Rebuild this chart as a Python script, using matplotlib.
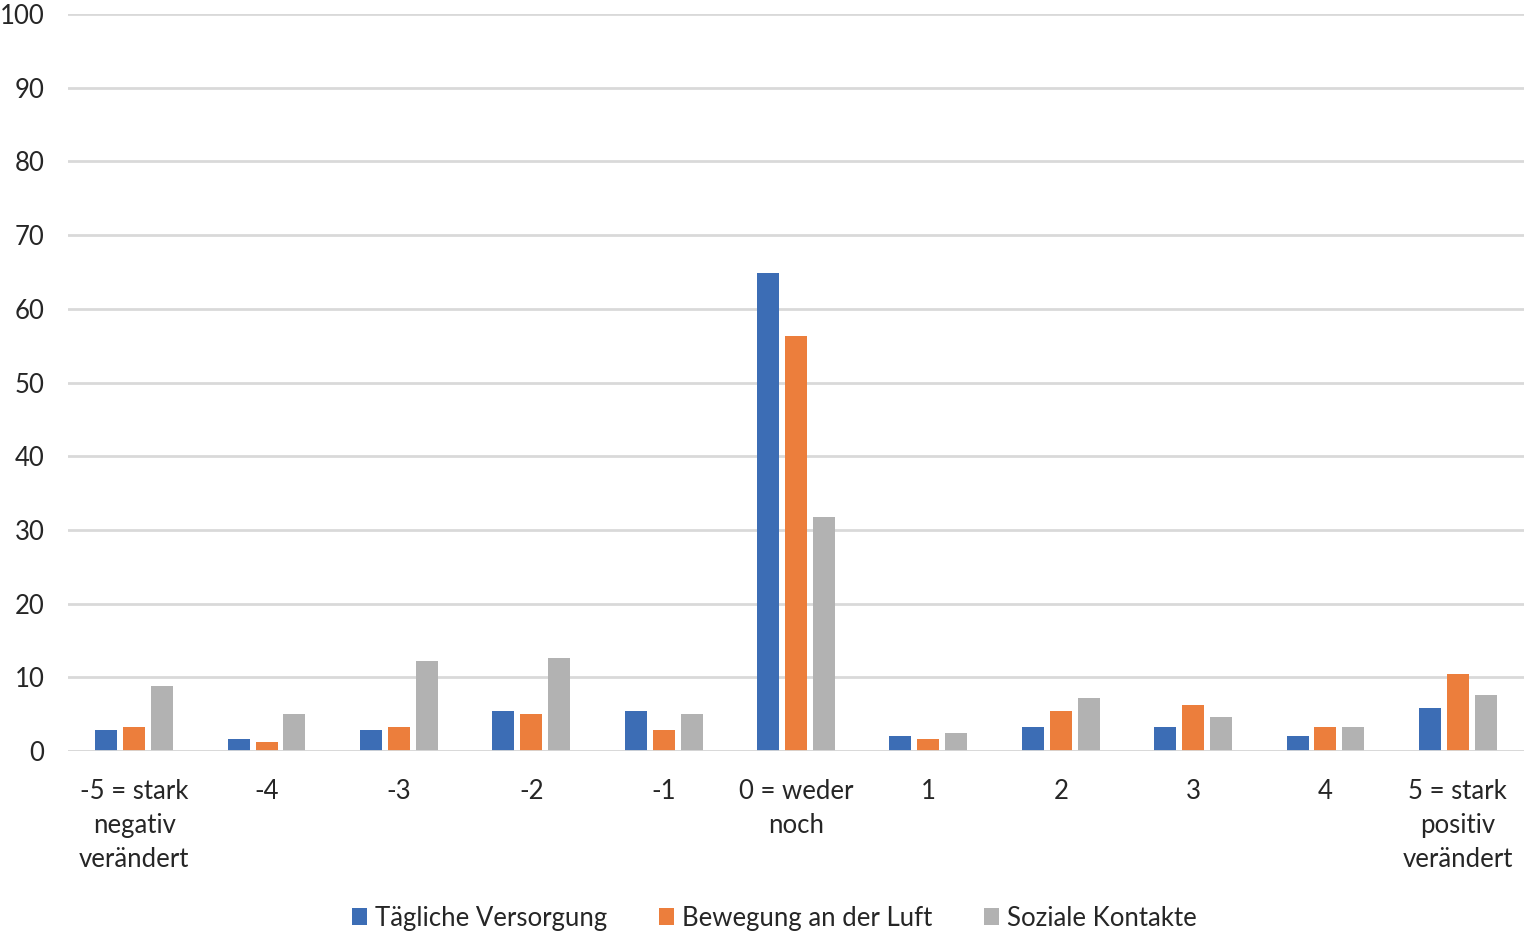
import matplotlib
matplotlib.use("Agg")
import matplotlib.pyplot as plt
import numpy as np

plt.rcParams['font.family'] = ['Lato', 'DejaVu Sans']

categories = ["-5 = stark\nnegativ\nverändert", "-4", "-3", "-2", "-1", "0 = weder\nnoch",
              "1", "2", "3", "4", "5 = stark\npositiv\nverändert"]
series_names = ["Tägliche Versorgung", "Bewegung an der Luft", "Soziale Kontakte"]
versorgung = [2.8, 1.6, 2.8, 5.4, 5.4, 64.9, 2.0, 3.3, 3.3, 2.0, 5.8]
bewegung = [3.3, 1.2, 3.3, 5.0, 2.8, 56.3, 1.6, 5.4, 6.2, 3.3, 10.4]
soziale = [8.8, 5.0, 12.2, 12.6, 5.0, 31.8, 2.4, 7.2, 4.6, 3.3, 7.6]
colors = ["#3C6DB5", "#EC7E3C", "#B2B2B2"]

fig = plt.figure(figsize=(15.24, 9.36), dpi=100)
ax = fig.add_axes([0.0446, 0.1976, 0.9554, 0.7874])

x = np.arange(len(categories))
w = 0.166
step = 0.211
for i, (vals, name) in enumerate(zip([versorgung, bewegung, soziale], series_names)):
    ax.bar(x + (i - 1) * step, vals, width=w, color=colors[i], label=name, zorder=3)

ax.set_xlim(-0.5, len(categories) - 0.5)
ax.set_ylim(0, 100)
ax.set_yticks(range(0, 101, 10))
ax.set_xticks(x)
ax.set_xticklabels(categories, fontsize=18.5, color="#262626", linespacing=1.45)
ax.tick_params(axis='y', labelsize=18.5, colors="#262626", length=0, pad=17)
ax.tick_params(axis='x', length=0, pad=20)
ax.grid(axis='y', color="#D9D9D9", linewidth=2, zorder=0)
for s in ax.spines.values():
    s.set_visible(False)
ax.axhline(0, color="#D9D9D9", linewidth=2, zorder=4)

leg = fig.legend(loc='lower center', bbox_to_anchor=(0.508, -0.019), ncol=3, frameon=False,
                 fontsize=18.5, handlelength=0.6, handleheight=0.6, handletextpad=0.3,
                 columnspacing=2.0, labelcolor="#262626")
fig.savefig("out.png", dpi=100)
